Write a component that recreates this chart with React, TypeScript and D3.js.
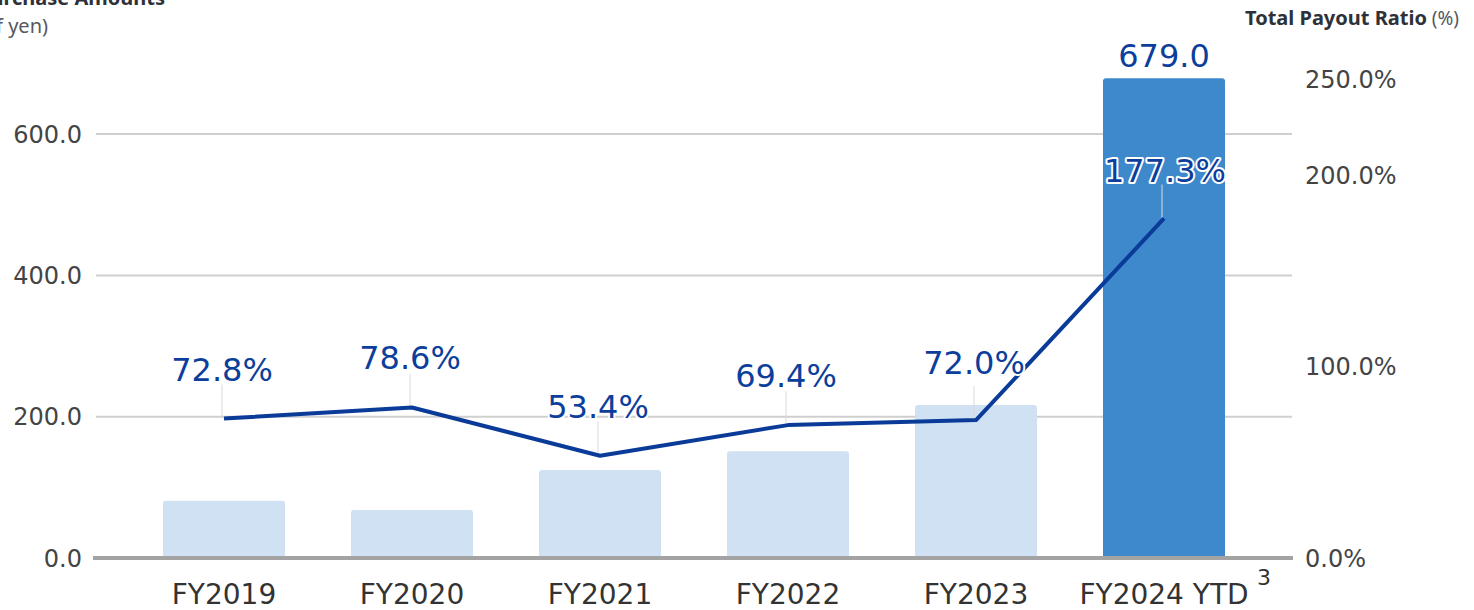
import React from "react";
import * as d3 from "d3";

const categories = ["FY2019", "FY2020", "FY2021", "FY2022", "FY2023", "FY2024 YTD"];
const repurchase = [81, 68, 124.6, 151, 216.6, 679.0];
const payoutRatio = [72.8, 78.6, 53.4, 69.4, 72.0, 177.3];
const leftTicks = [0, 200, 400, 600];
const rightTicks = [0, 100, 200, 250];

const W = 1474;
const H = 610;
const FONT = "'DejaVu Sans', Verdana, sans-serif";
const TITLE_FONT = "'Noto Sans', 'Open Sans', sans-serif";
// label placement nudges (collision avoidance in the original)
const labelNudge: Record<number, number> = { 4: -8, 5: 2 };

export default function App() {
  const x = d3
    .scaleBand<string>()
    .domain(categories)
    .range([130, 1258])
    .paddingInner(0.351)
    .paddingOuter(0.1755);
  const yL = d3.scaleLinear().domain([0, 678]).range([558, 79]);
  const yR = d3.scaleLinear().domain([0, 250]).range([558, 79.25]);
  const cx = (c: string) => (x(c) as number) + x.bandwidth() / 2;

  const line = d3
    .line<number>()
    .x((_, i) => cx(categories[i]))
    .y((d) => yR(d));

  const barPath = (x0: number, y0: number, w: number, h: number, r: number) =>
    `M${x0},${y0 + h}V${y0 + r}Q${x0},${y0} ${x0 + r},${y0}H${x0 + w - r}Q${x0 + w},${y0} ${x0 + w},${y0 + r}V${y0 + h}Z`;

  const lblColor = "#0c3e9c";

  return (
    <svg
      width={W}
      height={H}
      style={{ position: "absolute", left: 0, top: 0, background: "#fff" }}
    >
      {/* titles */}
      <text x={165} y={5} textAnchor="end" fontFamily={TITLE_FONT} fontWeight={700} fontSize={20} fill="#2e3138">
        Share Repurchase Amounts
      </text>
      <text x={48} y={33} textAnchor="end" fontFamily={TITLE_FONT} fontSize={20} fill="#55585e">
        (Billions of yen)
      </text>
      <text x={1245} y={25} fontFamily={TITLE_FONT} fontSize={20} fill="#2e3138">
        <tspan fontWeight={700}>Total Payout Ratio</tspan>
        <tspan fill="#55585e" fontSize={19}> (%)</tspan>
      </text>

      {/* gridlines */}
      {leftTicks
        .filter((t) => t > 0)
        .map((t) => (
          <line key={t} x1={96} x2={1292} y1={yL(t)} y2={yL(t)} stroke="#cfcfcf" strokeWidth={2} />
        ))}

      {/* left ticks */}
      {leftTicks.map((t) => (
        <text key={t} x={82} y={yL(t)} dy="0.36em" textAnchor="end" fontFamily={FONT} fontSize={24} fill="#444">
          {t.toFixed(1)}
        </text>
      ))}
      {/* right ticks */}
      {rightTicks.map((t) => (
        <text key={t} x={1305} y={yR(t)} dy="0.36em" fontFamily={FONT} fontSize={24} fill="#444">
          {t.toFixed(1)}%
        </text>
      ))}

      {/* bars */}
      {categories.map((c, i) => (
        <path
          key={c}
          d={barPath(x(c) as number, yL(repurchase[i]), x.bandwidth(), yL(0) - yL(repurchase[i]), 3)}
          fill={i === categories.length - 1 ? "#3e88cc" : "#cfe1f2"}
        />
      ))}

      {/* baseline */}
      <line x1={93} x2={1293} y1={yL(0)} y2={yL(0)} stroke="#a3a3a3" strokeWidth={4} />

      {/* bar label for last */}
      <text
        x={cx(categories[5])}
        y={yL(repurchase[5]) - 11}
        textAnchor="middle"
        fontFamily={FONT}
        fontSize={32}
        fill={lblColor}
      >
        {repurchase[5].toFixed(1)}
      </text>

      {/* leader lines */}
      {payoutRatio.map((v, i) => (
        <line
          key={"ld" + i}
          x1={cx(categories[i]) - 2}
          x2={cx(categories[i]) - 2}
          y1={yR(v) - 34}
          y2={yR(v)}
          stroke="#d9d9d9"
          strokeWidth={1}
        />
      ))}

      {/* line */}
      <path d={line(payoutRatio) || ""} fill="none" stroke="#0a3b98" strokeWidth={4} strokeLinejoin="round" />

      {/* line labels */}
      {payoutRatio.map((v, i) => (
        <text
          key={"pl" + i}
          x={cx(categories[i]) - 2 + (i === 5 ? 3 : 0)}
          y={yR(v) - 38 + (labelNudge[i] || 0)}
          textAnchor="middle"
          fontFamily={FONT}
          fontSize={32}
          fill={lblColor}
          stroke="#fff"
          strokeWidth={4}
          paintOrder="stroke"
          strokeLinejoin="round"
        >
          {v.toFixed(1)}%
        </text>
      ))}

      {/* x labels */}
      {categories.map((c) => (
        <text key={"x" + c} x={cx(c)} y={604} textAnchor="middle" fontFamily={FONT} fontSize={28} fill="#333">
          {c}
        </text>
      ))}
      <text x={1257} y={585} fontFamily={FONT} fontSize={22} fill="#333">
        3
      </text>
    </svg>
  );
}
